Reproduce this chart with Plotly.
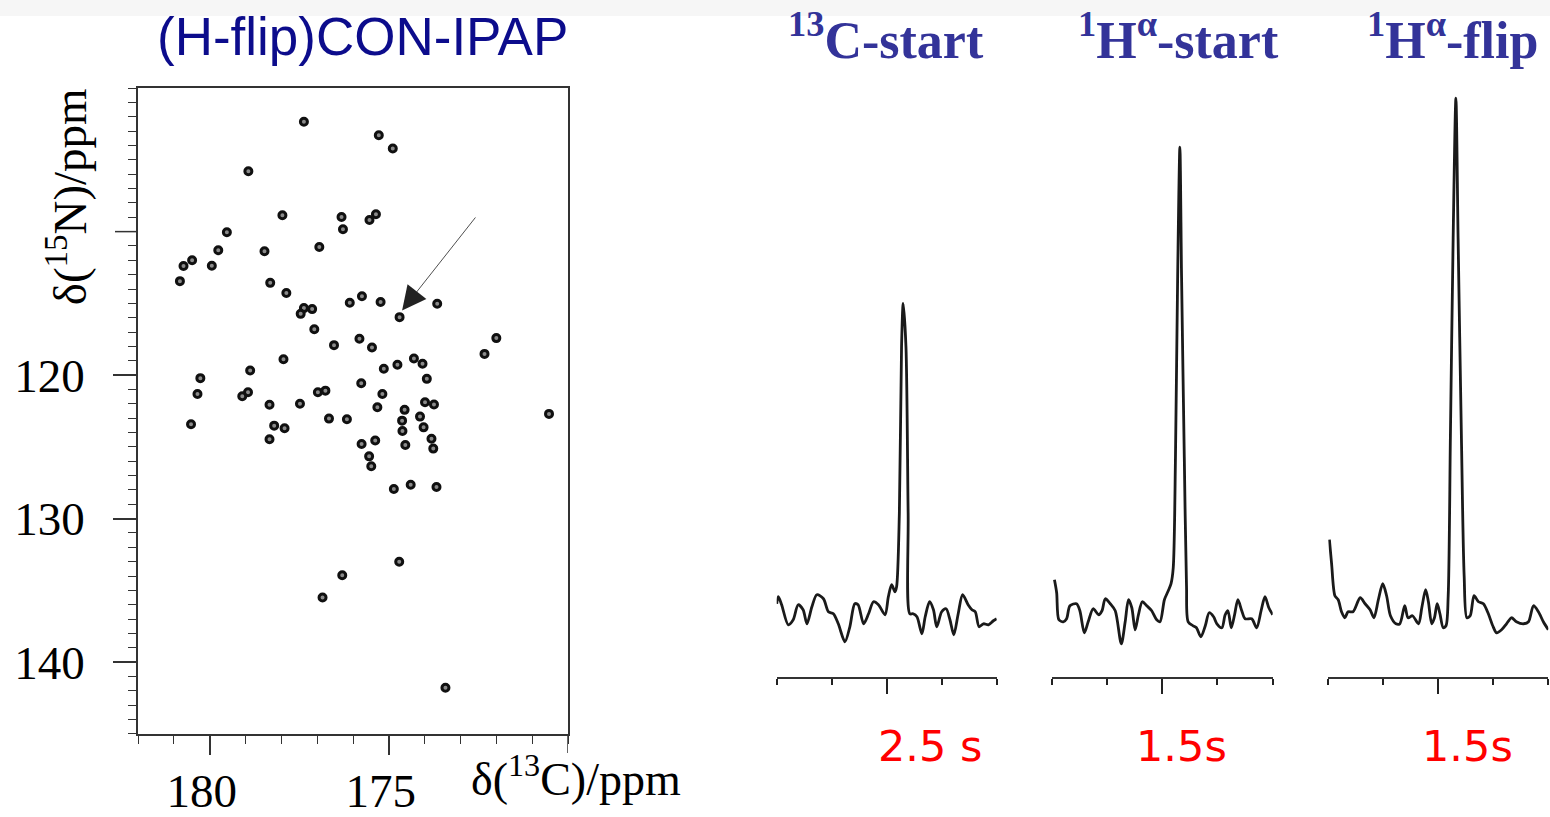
import plotly.graph_objects as go

# ---------------- data ----------------
# 2D (H-flip)CON-IPAP peak list: 13C shift (ppm), 15N shift (ppm)
peaks_c = [177.37, 175.28, 174.89, 178.92, 177.97, 176.32, 175.36, 175.54, 176.28, 179.52,
           179.76, 178.47, 176.94, 180.49, 180.73, 179.94, 180.83, 178.31, 177.86, 176.09,
           175.75, 175.23, 174.70, 173.65, 177.37, 177.14, 177.46, 177.08, 172.00, 172.33,
           176.53, 175.82, 175.47, 177.94, 178.87, 180.26, 174.30, 174.06, 174.76, 175.14,
           173.94, 175.77, 180.34, 178.93, 179.09, 176.98, 176.77, 175.18, 177.48, 178.33,
           175.32, 173.99, 173.74, 174.56, 176.67, 176.17, 174.63, 174.13, 174.03, 180.52,
           178.20, 177.91, 178.33, 174.62, 173.81, 175.38, 175.76, 174.54, 173.76, 175.55,
           175.49, 170.53, 174.86, 174.39, 173.67, 174.71, 176.30, 176.85, 173.42]
peaks_n = [102.35, 103.28, 104.21, 105.79, 108.86, 108.98, 108.79, 109.19, 109.84, 110.05,
           111.30, 111.37, 111.07, 112.00, 112.40, 112.38, 113.45, 113.57, 114.28, 114.96,
           114.51, 114.91, 115.96, 115.03, 115.33, 115.40, 115.73, 116.80, 117.42, 118.52,
           117.91, 117.47, 118.08, 118.89, 119.68, 120.21, 118.84, 119.21, 119.28, 119.56,
           120.26, 120.56, 121.31, 121.19, 121.47, 121.19, 121.08, 121.31, 122.00, 122.07,
           122.24, 121.89, 122.05, 122.42, 123.03, 123.07, 123.17, 122.89, 123.64, 123.42,
           123.52, 123.70, 124.47, 123.89, 124.43, 124.56, 124.80, 124.87, 125.12, 125.66,
           126.35, 122.70, 127.94, 127.64, 127.80, 133.01, 133.94, 135.50, 141.78]

# highlighted peak (arrow): tail and tip in ppm
arrow_tail = (172.55, 108.91)
arrow_tip = (174.63, 115.49)

# 1D traces (x in axis-tick units 0..4, intensity in arbitrary units)
c13_x = [0.0, 0.03, 0.09, 0.21, 0.30, 0.39, 0.48, 0.55, 0.64, 0.73, 0.85, 0.94, 1.03, 1.12, 1.24,
         1.33, 1.42, 1.48, 1.58, 1.67, 1.76, 1.85, 1.97, 2.03, 2.09, 2.15, 2.18, 2.23, 2.27, 2.30,
         2.35, 2.39, 2.42, 2.48, 2.55, 2.64, 2.70, 2.78, 2.85, 2.91, 3.00, 3.08, 3.15, 3.22, 3.30,
         3.38, 3.48, 3.55, 3.61, 3.68, 3.76, 3.85, 3.94, 4.0]
c13_y = [73, 80, 72, 52, 57, 72, 67, 53, 70, 82, 78, 65, 63, 53, 35, 50, 73, 72, 53, 63,
         75, 72, 62, 80, 92, 85, 90, 163, 330, 373, 330, 163, 63, 63, 60, 43, 60, 75, 67, 50,
         65, 68, 57, 42, 63, 82, 72, 67, 65, 50, 53, 52, 56, 58]

ha_start_x = [0.05, 0.09, 0.13, 0.21, 0.27, 0.33, 0.45, 0.51, 0.59, 0.66, 0.75, 0.85, 0.91, 0.97,
              1.06, 1.15, 1.26, 1.33, 1.39, 1.45, 1.51, 1.57, 1.64, 1.72, 1.81, 1.90, 1.96, 2.04,
              2.11, 2.16, 2.20, 2.24, 2.28, 2.32, 2.35, 2.40, 2.44, 2.47, 2.56, 2.62, 2.70, 2.78,
              2.85, 2.93, 2.99, 3.08, 3.14, 3.19, 3.25, 3.31, 3.37, 3.44, 3.50, 3.62, 3.71, 3.79,
              3.86, 3.93, 4.0]
ha_start_y = [97, 84, 57, 55, 58, 71, 73, 66, 44, 55, 68, 62, 66, 78, 73, 66, 33, 55, 77, 69,
              47, 62, 75, 71, 66, 57, 55, 77, 86, 93, 109, 219, 401, 529, 401, 219, 91, 55, 51, 49,
              40, 51, 64, 60, 53, 49, 62, 66, 49, 62, 77, 66, 58, 58, 49, 66, 80, 69, 62]

ha_flip_x = [0.02, 0.06, 0.12, 0.18, 0.24, 0.30, 0.36, 0.45, 0.58, 0.67, 0.76, 0.83, 0.91, 0.99,
             1.06, 1.13, 1.23, 1.30, 1.39, 1.45, 1.53, 1.64, 1.70, 1.77, 1.82, 1.88, 1.93, 1.98,
             2.03, 2.09, 2.14, 2.18, 2.22, 2.27, 2.32, 2.36, 2.42, 2.47, 2.52, 2.58, 2.65, 2.73,
             2.82, 2.91, 2.99, 3.06, 3.15, 3.24, 3.33, 3.42, 3.55, 3.64, 3.73, 3.82, 3.91, 4.0]
ha_flip_y = [137, 113, 81, 77, 65, 59, 65, 65, 79, 73, 67, 59, 77, 93, 81, 61, 53, 53, 71, 59,
             61, 53, 69, 87, 75, 53, 59, 73, 63, 49, 51, 81, 240, 438, 578, 438, 240, 101, 59, 61,
             81, 75, 73, 63, 51, 44, 47, 53, 59, 55, 53, 55, 71, 65, 55, 47]

panel_titles = ["<sup>13</sup>C-start", "<sup>1</sup>H<sup>α</sup>-start", "<sup>1</sup>H<sup>α</sup>-flip"]
panel_times = ["2.5 s", "1.5s", "1.5s"]

x_tickvals = [180, 175]
y_tickvals = [120, 130, 140]
x_unlabelled_major = 170
y_unlabelled_major = 110

# ---------------- figure ----------------
W, H = 1550, 817
H_EFF = 806  # vertical extent actually used by the rendered page


def px(xp):
    return xp / W


def py(yp):
    return 1 - yp / H_EFF


SERIF = "Liberation Serif"
INK = "#333333"
fig = go.Figure()

fig.add_trace(go.Scatter(
    x=peaks_c, y=peaks_n, mode="markers", xaxis="x", yaxis="y",
    marker=dict(symbol="circle", size=7, color="#8a8a8a",
                line=dict(color="#101010", width=3.0)),
    showlegend=False, hoverinfo="x+y"))

traces = [(c13_x, c13_y), (ha_start_x, ha_start_y), (ha_flip_x, ha_flip_y)]
for i, (tx, ty) in enumerate(traces):
    fig.add_trace(go.Scatter(
        x=tx, y=ty, mode="lines", xaxis=f"x{i+2}", yaxis=f"y{i+2}",
        line=dict(color="#1a1a1a", width=2.8, shape="spline", smoothing=0.8),
        showlegend=False))

axis_line = dict(showline=True, linecolor=INK, linewidth=1.5, showgrid=False, zeroline=False)

plot_x0, plot_x1 = 138, 568
plot_y0, plot_y1 = 88, 733

layout = dict(
    width=W, height=H, autosize=False,
    margin=dict(l=0, r=0, t=0, b=0),
    paper_bgcolor="white", plot_bgcolor="white",
    xaxis=dict(domain=[px(plot_x0), px(plot_x1)], range=[182, 170], anchor="y",
               tickmode="array", tickvals=x_tickvals, ticktext=[str(v) for v in x_tickvals],
               ticks="outside", ticklen=19, tickwidth=1.5, tickcolor=INK,
               minor=dict(ticks="outside", dtick=1, tick0=170, ticklen=8, tickwidth=1.2,
                          tickcolor=INK),
               mirror=True, ticklabelstandoff=-4, ticklabelshift=8,
               tickfont=dict(family=SERIF, size=47, color="black"), **axis_line),
    yaxis=dict(domain=[py(plot_y1), py(plot_y0)], range=[145, 100], anchor="x",
               tickmode="array", tickvals=y_tickvals, ticktext=[str(v) for v in y_tickvals],
               ticks="outside", ticklen=23, tickwidth=1.5, tickcolor=INK,
               minor=dict(ticks="outside", dtick=1, tick0=100, ticklen=8, tickwidth=1.2,
                          tickcolor=INK),
               mirror=True, ticklabelstandoff=19,
               tickfont=dict(family=SERIF, size=47, color="black"), **axis_line),
)

panel_dom = [(776.7, 996.7), (1051.7, 1272.7), (1328.3, 1548.3)]
for i, (a, b) in enumerate(panel_dom):
    n = i + 2
    layout[f"xaxis{n}"] = dict(domain=[px(a), px(b)], range=[0, 4], anchor=f"y{n}",
                              tickmode="array", tickvals=[2], ticks="outside", ticklen=15,
                              tickwidth=2.2, tickcolor="#222222", showticklabels=False,
                              minor=dict(ticks="outside", dtick=1, tick0=0, ticklen=6,
                                         tickwidth=1.6, tickcolor="#222222"),
                              **axis_line)
    layout[f"yaxis{n}"] = dict(domain=[py(676), py(88)], range=[0, 588], anchor=f"x{n}",
                              visible=False)
fig.update_layout(**layout)

# long (unlabelled) major ticks at 170 ppm (13C) and 110 ppm (15N)
fig.add_shape(type="line", xref="x", yref="y domain", x0=x_unlabelled_major, x1=x_unlabelled_major,
              y0=0, y1=-19 / (plot_y1 - plot_y0), line=dict(color=INK, width=1.5))
fig.add_shape(type="line", xref="x domain", yref="y", x0=-23 / (plot_x1 - plot_x0), x1=0,
              y0=y_unlabelled_major, y1=y_unlabelled_major, line=dict(color=INK, width=1.5))

annotations = []
# arrow
annotations.append(dict(x=arrow_tip[0], y=arrow_tip[1], ax=arrow_tail[0], ay=arrow_tail[1],
                        xref="x", yref="y", axref="x", ayref="y", text="", showarrow=True,
                        arrowhead=2, arrowsize=6, arrowwidth=0.8, arrowcolor="#222222"))
# left title
annotations.append(dict(x=px(362), y=py(36), xref="paper", yref="paper", xanchor="center",
                        yanchor="middle", showarrow=False, text="(H-flip)CON-IPAP",
                        font=dict(family="Liberation Sans", size=53, color="#0c0c8c")))
# axis titles
annotations.append(dict(x=px(67), y=py(197), xref="paper", yref="paper", xanchor="center",
                        yanchor="middle", showarrow=False, textangle=-90,
                        text="δ(<sup>15</sup>N)/ppm",
                        font=dict(family=SERIF, size=47, color="black")))
annotations.append(dict(x=px(576), y=0, xref="paper", yref="paper", xanchor="center",
                        yanchor="bottom", showarrow=False,
                        text="δ(<sup>13</sup>C)/ppm",
                        font=dict(family=SERIF, size=46, color="black")))
# panel titles and times
title_cx = [886, 1178, 1452]
time_cx = [930, 1181, 1467]
for t, cx in zip(panel_titles, title_cx):
    annotations.append(dict(x=px(cx), y=py(36), xref="paper", yref="paper", xanchor="center",
                            yanchor="middle", showarrow=False, text=f"<b>{t}</b>",
                            font=dict(family=SERIF, size=52, color="#333399")))
for t, cx in zip(panel_times, time_cx):
    annotations.append(dict(x=px(cx), y=py(745), xref="paper", yref="paper", xanchor="center",
                            yanchor="middle", showarrow=False, text=t,
                            font=dict(family="DejaVu Sans", size=43, color="#ff0000")))
fig.update_layout(annotations=annotations)

fig.add_shape(type="rect", xref="paper", yref="paper", x0=0, x1=1, y0=py(16), y1=1,
              fillcolor="#f6f6f6", line=dict(width=0), layer="below")

fig.write_html("out.html")
